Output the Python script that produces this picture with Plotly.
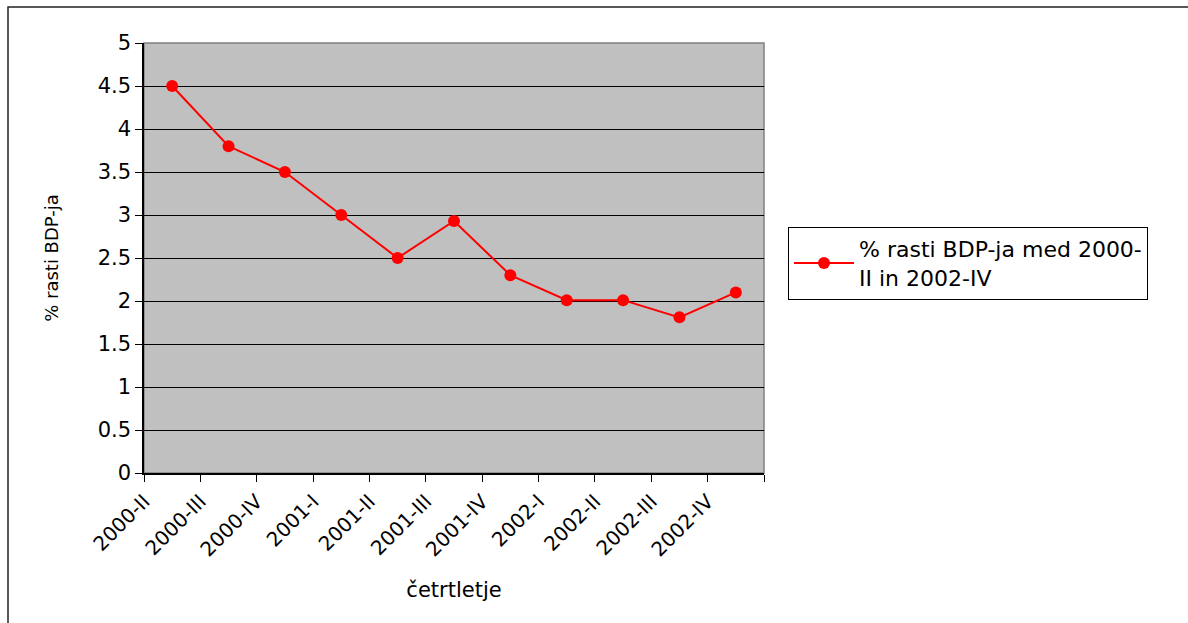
import plotly.graph_objects as go

# Quarterly GDP growth, 2000-II .. 2002-IV
quarters = ["2000-II", "2000-III", "2000-IV", "2001-I", "2001-II", "2001-III",
            "2001-IV", "2002-I", "2002-II", "2002-III", "2002-IV"]
growth = [4.5, 3.8, 3.5, 3.0, 2.5, 2.93, 2.3, 2.01, 2.01, 1.81, 2.1]
y_ticks = [0, 0.5, 1, 1.5, 2, 2.5, 3, 3.5, 4, 4.5, 5]
y_tick_text = ["0", "0.5", "1", "1.5", "2", "2.5", "3", "3.5", "4", "4.5", "5"]

series_name = "% rasti BDP-ja med 2000-<br>II in 2002-IV"

# categories sit between tick marks: point i is drawn at i + 0.5
x_pos = [i + 0.5 for i in range(len(quarters))]
x_ticks = list(range(len(quarters) + 1))
x_tick_text = quarters + [""]

FONT = "DejaVu Sans"

fig = go.Figure()
fig.add_trace(go.Scatter(
    x=x_pos, y=growth, mode="lines+markers", name=series_name,
    line=dict(color="#FF0000", width=2),
    marker=dict(color="#FF0000", size=12, symbol="circle"),
))

W, H = 1188, 623
L, R, T, B = 144, 424, 43, 150
pw, ph = W - L - R, H - T - B

def px_x(v):
    return (v - L) / pw

def px_y(v):
    return (H - B - v) / ph

fig.update_layout(
    width=W, height=H,
    margin=dict(l=L, r=R, t=T, b=B),
    paper_bgcolor="white",
    plot_bgcolor="#C0C0C0",
    font=dict(family=FONT, color="black", size=17),
    showlegend=True,
    legend=dict(
        x=px_x(788), y=px_y(227), xanchor="left", yanchor="top",
        bordercolor="black", borderwidth=1, bgcolor="white",
        font=dict(family=FONT, size=22, color="black"),
        itemwidth=60,
    ),
    xaxis=dict(
        range=[0, len(quarters)],
        tickmode="array", tickvals=x_ticks, ticktext=x_tick_text,
        tickangle=-45, ticks="outside", ticklen=7, tickcolor="black",
        showgrid=False, zeroline=False,
        showline=True, linecolor="black", linewidth=1.5,
        tickfont=dict(family=FONT, size=20, color="black"),
        title=dict(text="četrtletje", font=dict(family=FONT, size=21, color="black"),
                   standoff=22),
    ),
    yaxis=dict(
        range=[0, 5],
        tickmode="array", tickvals=y_ticks, ticktext=y_tick_text,
        ticks="outside", ticklen=7, tickcolor="black",
        showgrid=True, gridcolor="black", gridwidth=1,
        zeroline=False,
        showline=True, linecolor="black", linewidth=1.5,
        tickfont=dict(family=FONT, size=21, color="black"),
        title=dict(text="% rasti BDP-ja", font=dict(family=FONT, size=18, color="black"),
                   standoff=34),
    ),
    shapes=[
        # plot-area frame
        dict(type="rect", xref="paper", yref="paper", x0=0, y0=0, x1=1, y1=1,
             line=dict(color="#808080", width=1.5), layer="below"),
        # outer chart border
        dict(type="rect", xref="paper", yref="paper",
             x0=px_x(8), y0=px_y(640), x1=px_x(1200), y1=px_y(7),
             line=dict(color="#222222", width=1.5)),
    ],
)

fig.write_html("out.html")
